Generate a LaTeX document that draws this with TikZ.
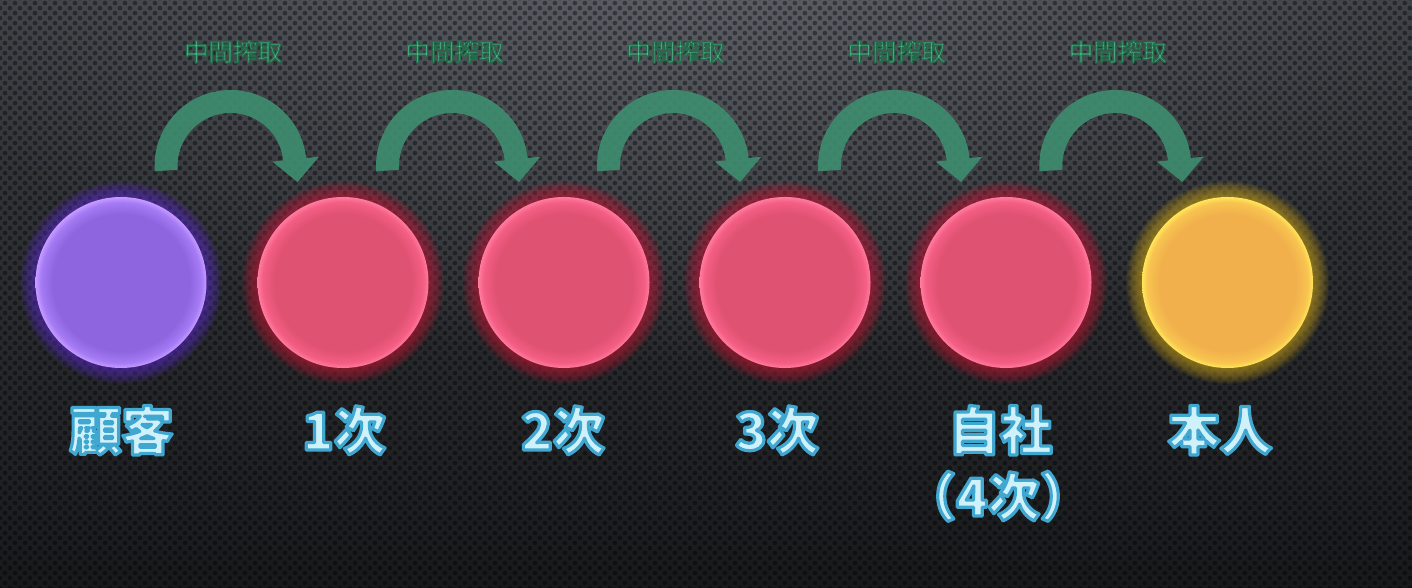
\documentclass[tikz,border=0pt]{standalone}
\usepackage{fontspec}
\newfontfamily\cjk{Noto Sans CJK JP}
\usetikzlibrary{calc,patterns.meta,fadings}

\definecolor{bgtop}{HTML}{3B3E43}
\definecolor{bgbot}{HTML}{18191B}
\definecolor{bglight}{HTML}{70737A}
% purple
\definecolor{pcen}{HTML}{8E64DF}
\definecolor{prim}{HTML}{A57CF5}
\definecolor{pedge}{HTML}{C89BFF}
\definecolor{pglow}{HTML}{5A2DC0}
% pink
\definecolor{rcen}{HTML}{DF5271}
\definecolor{rrim}{HTML}{F45E84}
\definecolor{redge}{HTML}{FF7BA0}
\definecolor{rglow}{HTML}{C01C3C}
% yellow
\definecolor{ycen}{HTML}{F1B04C}
\definecolor{yrim}{HTML}{F8C450}
\definecolor{yedge}{HTML}{FFE65A}
\definecolor{yglow}{HTML}{C8A21C}
% arrows / text
\definecolor{arrowc}{HTML}{3E8E70}
\definecolor{midfill}{HTML}{5AC593}
\definecolor{labfill}{HTML}{CFF1FA}

\pgfdeclareradialshading{purpleball}{\pgfpointorigin}{color(0bp)=(pcen);color(20bp)=(pcen);color(23.5bp)=(prim);color(25bp)=(pedge);color(50bp)=(pedge)}
\pgfdeclareradialshading{pinkball}{\pgfpointorigin}{color(0bp)=(rcen);color(20bp)=(rcen);color(23.5bp)=(rrim);color(25bp)=(redge);color(50bp)=(redge)}
\pgfdeclareradialshading{yellowball}{\pgfpointorigin}{color(0bp)=(ycen);color(20bp)=(ycen);color(23.5bp)=(yrim);color(25bp)=(yedge);color(50bp)=(yedge)}

\tikzfading[name=topglow, inner color=transparent!35, outer color=transparent!100]

% outlined text: fill colour from the node, stroke colour and width set here
\newcommand\labstrokeon{\special{pdf:literal direct 0.251 0.655 0.820 RG 2 Tr 3.2 w 1 j}}
\newcommand\midstrokeon{\special{pdf:literal direct 0.140 0.420 0.295 RG 2 Tr 1.2 w 1 j}}
\newcommand\labfont{\cjk\bfseries\fontsize{52}{62}\selectfont}
\newcommand\midfont{\cjk\fontsize{24.5}{29}\selectfont}

\tikzset{
  ball/.style={circle, minimum size=171pt, inner sep=0pt, shade, draw=none},
  lbl/.style={font=\labfont, text=labfill, anchor=base, inner sep=0pt},
  mid/.style={font=\midfont, text=midfill, anchor=base, inner sep=0pt},
  fatarrow/.style={fill=arrowc, fill opacity=0.9, draw=none},
}

\newcommand\glow[2]{% coordinate, colour
  \foreach \k in {1,...,16}{\fill[#2, opacity=0.06] (#1) circle (85.5+\k);}
}

\newcommand\fatarc[1]{% centre coordinate
  \fill[fatarrow] ($(#1)+(184:53)$) -- ($(#1)+(184:76)$)
    arc[start angle=184, end angle=6, radius=76]
    -- ($(#1)+(6:89)$) -- ($(#1)+(6:65)+(-84:23)$) -- ($(#1)+(6:42)$)
    -- ($(#1)+(6:53)$) arc[start angle=6, end angle=184, radius=53] -- cycle;
}

\begin{document}
\begin{tikzpicture}[x=1pt,y=1pt]
\useasboundingbox (0,0) rectangle (1412,588);
% background
\shade[top color=bgtop, bottom color=bgbot] (0,0) rectangle (1412,588);
\fill[bglight, path fading=topglow] (706,640) ellipse (820 and 420);
\fill[pattern={Dots[distance=7.07pt, angle=45, radius=2.3pt]}, pattern color=black, fill opacity=0.4] (0,0) rectangle (1412,588);

% positions
\coordinate (p0) at (121,305.5);
\coordinate (p1) at (343,305.5);
\coordinate (p2) at (564,305.5);
\coordinate (p3) at (785,305.5);
\coordinate (p4) at (1006,305.5);
\coordinate (p5) at (1227.5,305.5);

% glows
\glow{p0}{pglow}
\glow{p1}{rglow}
\glow{p2}{rglow}
\glow{p3}{rglow}
\glow{p4}{rglow}
\glow{p5}{yglow}

% circles
\node[ball, shading=purpleball] (c0) at (p0) {};
\node[ball, shading=pinkball] (c1) at (p1) {};
\node[ball, shading=pinkball] (c2) at (p2) {};
\node[ball, shading=pinkball] (c3) at (p3) {};
\node[ball, shading=pinkball] (c4) at (p4) {};
\node[ball, shading=yellowball] (c5) at (p5) {};

% arrows
\coordinate (a1) at ($(c0)!0.5!(c1)+(-1.5,116.5)$);
\coordinate (a2) at ($(c1)!0.5!(c2)+(-1.5,116.5)$);
\coordinate (a3) at ($(c2)!0.5!(c3)+(-1.5,116.5)$);
\coordinate (a4) at ($(c3)!0.5!(c4)+(-1.5,116.5)$);
\coordinate (a5) at ($(c4)!0.5!(c5)+(-1.5,116.5)$);
\fatarc{a1}
\fatarc{a2}
\fatarc{a3}
\fatarc{a4}
\fatarc{a5}

% arrow texts
\node[mid] (m1) at ($(a1)+(2.5,105)$) {\midstrokeon 中間搾取};
\node[mid] (m2) at ($(a2)+(2.5,105)$) {\midstrokeon 中間搾取};
\node[mid] (m3) at ($(a3)+(2.5,105)$) {\midstrokeon 中間搾取};
\node[mid] (m4) at ($(a4)+(2.5,105)$) {\midstrokeon 中間搾取};
\node[mid] (m5) at ($(a5)+(2.5,105)$) {\midstrokeon 中間搾取};

% labels
\node[lbl] (l0) at (121.5,138) {\labstrokeon 顧客};
\node[lbl] (l1) at (344,138) {\labstrokeon 1次};
\node[lbl] (l2) at (563,138) {\labstrokeon 2次};
\node[lbl] (l3) at (777,138) {\labstrokeon 3次};
\node[lbl] (l4) at (1000,138) {\labstrokeon 自社};
\node[lbl] (l4b) at (998,72) {\labstrokeon （4次）};
\node[lbl] (l5) at (1220,138) {\labstrokeon 本人};
\end{tikzpicture}
\end{document}
